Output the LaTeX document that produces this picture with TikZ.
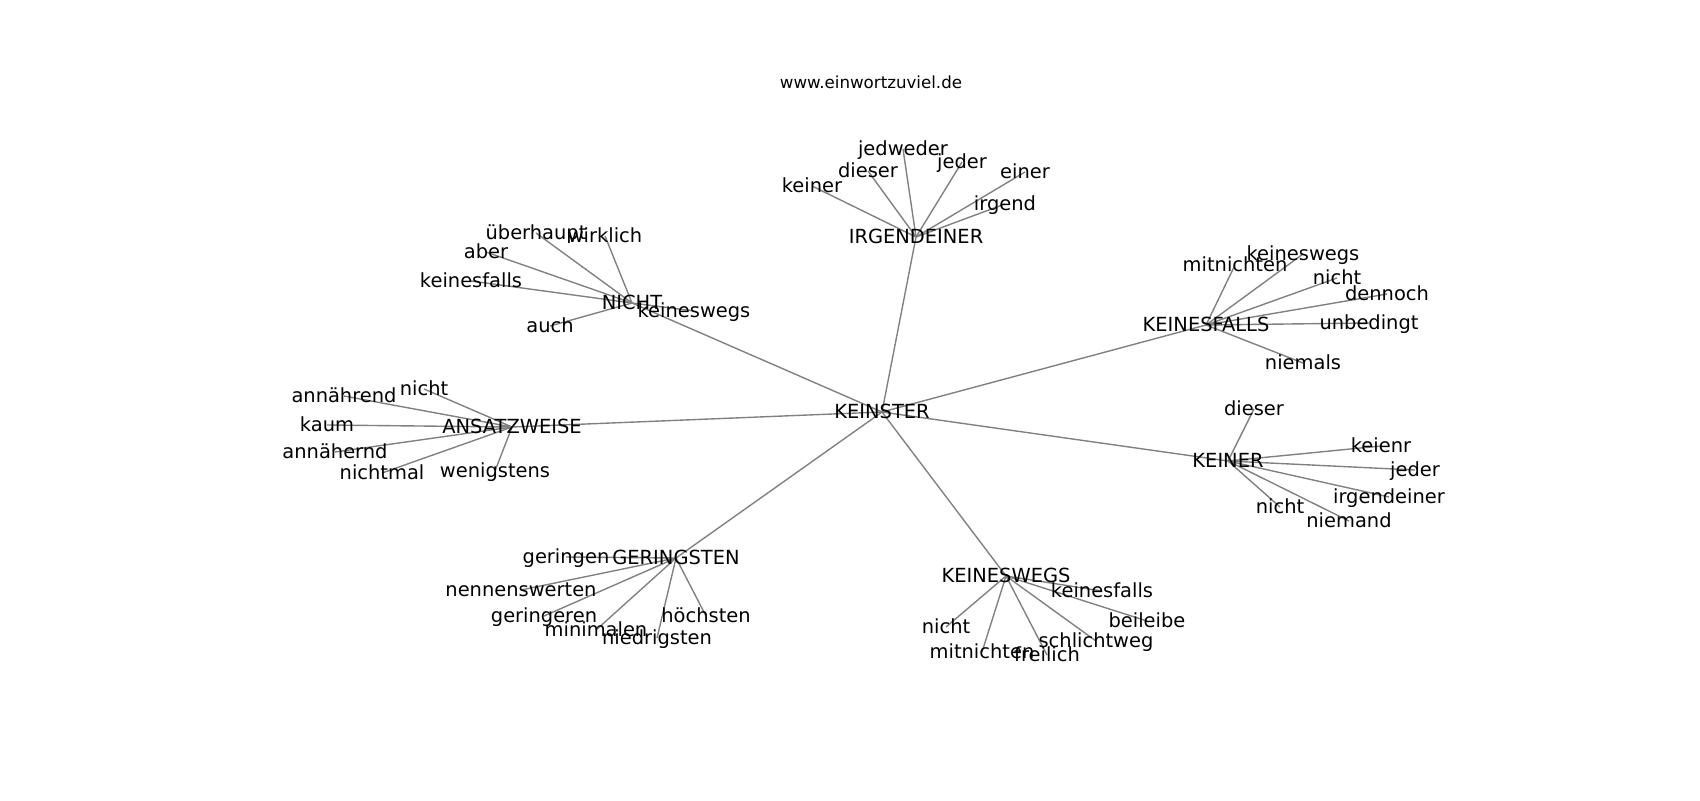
\documentclass[tikz,border=0pt]{standalone}
\usepackage{fontspec}
\setmainfont{DejaVu Sans}
\usetikzlibrary{backgrounds}
\definecolor{edgegray}{RGB}{128,128,128}
\tikzset{
  lbl/.style={inner sep=0pt, outer sep=0pt, anchor=center, text height=0.92em, text depth=0em,
    font=\fontsize{14pt}{16pt}\selectfont, text=black},
  ttl/.style={inner sep=0pt, anchor=center, font=\fontsize{12pt}{14pt}\selectfont, text=black},
  edge/.style={draw=edgegray, line width=1pt}
}
\begin{document}
\begin{tikzpicture}[x=0.72pt, y=-0.72pt]
\useasboundingbox (0,0) rectangle (1700,800);
\node[ttl] (title) at (871,82) {www.einwortzuviel.de};
% hubs
\node[lbl] (KEINSTER) at (882,412) {KEINSTER};
\node[lbl] (IRG) at (916,237) {IRGENDEINER};
\node[lbl] (NICHT) at (632,303) {NICHT};
\node[lbl] (ANS) at (512,427) {ANSATZWEISE};
\node[lbl] (GER) at (676,558) {GERINGSTEN};
\node[lbl] (KWEGS) at (1006,576) {KEINESWEGS};
\node[lbl] (KFALLS) at (1206,325) {KEINESFALLS};
\node[lbl] (KEINER) at (1228,461) {KEINER};
% IRGENDEINER leaves
\node[lbl] (i1) at (812,186) {keiner};
\node[lbl] (i2) at (868,171) {dieser};
\node[lbl] (i3) at (903,149) {jedweder};
\node[lbl] (i4) at (962,162) {jeder};
\node[lbl] (i5) at (1025,172) {einer};
\node[lbl] (i6) at (1005,204) {irgend};
% NICHT leaves
\node[lbl] (n1) at (536,233) {überhaupt};
\node[lbl] (n2) at (605,236) {wirklich};
\node[lbl] (n3) at (486,252) {aber};
\node[lbl] (n4) at (471,281) {keinesfalls};
\node[lbl] (n5) at (550,326) {auch};
\node[lbl] (n6) at (694,311) {keineswegs};
% ANSATZWEISE leaves
\node[lbl] (a1) at (424,389) {nicht};
\node[lbl] (a2) at (344,396) {annährend};
\node[lbl] (a3) at (327,425) {kaum};
\node[lbl] (a4) at (335,452) {annähernd};
\node[lbl] (a5) at (382,473) {nichtmal};
\node[lbl] (a6) at (495,471) {wenigstens};
% GERINGSTEN leaves
\node[lbl] (g1) at (566,557) {geringen};
\node[lbl] (g2) at (521,590) {nennenswerten};
\node[lbl] (g3) at (544,616) {geringeren};
\node[lbl] (g4) at (596,630) {minimalen};
\node[lbl] (g5) at (657,638) {niedrigsten};
\node[lbl] (g6) at (706,616) {höchsten};
% KEINESWEGS leaves
\node[lbl] (w1) at (946,627) {nicht};
\node[lbl] (w2) at (982,652) {mitnichten};
\node[lbl] (w3) at (1047,655) {freilich};
\node[lbl] (w4) at (1096,641) {schlichtweg};
\node[lbl] (w5) at (1147,621) {beileibe};
\node[lbl] (w6) at (1102,591) {keinesfalls};
% KEINESFALLS leaves
\node[lbl] (f1) at (1235,265) {mitnichten};
\node[lbl] (f2) at (1303,254) {keineswegs};
\node[lbl] (f3) at (1337,278) {nicht};
\node[lbl] (f4) at (1387,294) {dennoch};
\node[lbl] (f5) at (1369,323) {unbedingt};
\node[lbl] (f6) at (1303,363) {niemals};
% KEINER leaves
\node[lbl] (k1) at (1254,409) {dieser};
\node[lbl] (k2) at (1381,446) {keienr};
\node[lbl] (k3) at (1415,470) {jeder};
\node[lbl] (k4) at (1389,497) {irgendeiner};
\node[lbl] (k5) at (1349,521) {niemand};
\node[lbl] (k6) at (1280,507) {nicht};
\begin{pgfonlayer}{background}
\foreach \h in {IRG,NICHT,ANS,GER,KWEGS,KFALLS,KEINER}
  \draw[edge] (KEINSTER.center) -- (\h.center);
\foreach \l in {i1,i2,i3,i4,i5,i6} \draw[edge] (IRG.center) -- (\l.center);
\foreach \l in {n1,n2,n3,n4,n5,n6} \draw[edge] (NICHT.center) -- (\l.center);
\foreach \l in {a1,a2,a3,a4,a5,a6} \draw[edge] (ANS.center) -- (\l.center);
\foreach \l in {g1,g2,g3,g4,g5,g6} \draw[edge] (GER.center) -- (\l.center);
\foreach \l in {w1,w2,w3,w4,w5,w6} \draw[edge] (KWEGS.center) -- (\l.center);
\foreach \l in {f1,f2,f3,f4,f5,f6} \draw[edge] (KFALLS.center) -- (\l.center);
\foreach \l in {k1,k2,k3,k4,k5,k6} \draw[edge] (KEINER.center) -- (\l.center);
\end{pgfonlayer}
\end{tikzpicture}
\end{document}
